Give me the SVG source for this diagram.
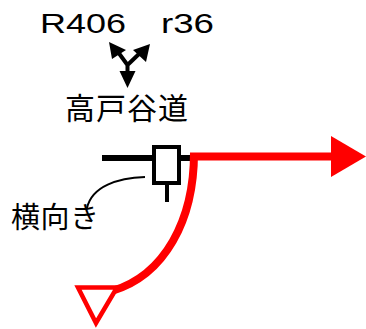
<svg xmlns="http://www.w3.org/2000/svg" width="366" height="329" viewBox="0 0 366 329">
<style>
text{font-family:"Noto Sans CJK JP","Liberation Sans",sans-serif;fill:#000}
.lat{font-family:"Liberation Sans",Arial,sans-serif;font-size:28px}
.red{fill:none;stroke:#f00;stroke-width:8}
.blk{fill:none;stroke:#000;stroke-width:4}
</style>
<g id="labels">
<text class="lat" x="40" y="33" textLength="86" lengthAdjust="spacingAndGlyphs">R406</text>
<text class="lat" x="161" y="33" textLength="53" lengthAdjust="spacingAndGlyphs">r36</text>
<text x="65" y="119" font-size="30" textLength="123">高戸谷道</text>
<text x="11" y="228" font-size="29" textLength="88">横向き</text>
</g>
<g id="connectors">
<path class="blk" d="M127.500 75V65L118 52M127.500 65L140 53"/>
<path d="M127.500 88L119.500 71H135.500zM109 42L126 50L112 59zM150 44L133 50L146 62z" fill="#000"/>
<path d="M102 158H190" stroke="#000" stroke-width="6"/>
<path d="M167 183V202" stroke="#000" stroke-width="4"/>
<path d="M145 177C118 178 92 186 87 208" fill="none" stroke="#000" stroke-width="2"/>
<path class="red" d="M190 156.500H335"/>
<path d="M331 136L366 156.500L331 177z" fill="#f00"/>
<path class="red" d="M194 153C194 220 165 275 112 291"/>
</g>
<g id="node-box"><rect x="154" y="147" width="25" height="36" fill="#fff" stroke="#000" stroke-width="4"/></g>
<g id="node-triangle"><path d="M78 287.500H117L96 323z" fill="#fff" stroke="#f00" stroke-width="4.500"/></g>
</svg>
